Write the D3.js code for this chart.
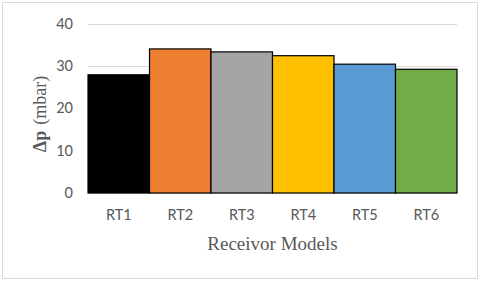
<!DOCTYPE html>
<html>
<head>
<meta charset="utf-8">
<script src="https://cdn.jsdelivr.net/npm/d3@7"></script>
<style>
  body { margin: 0; background: #fff; }
  svg { display: block; }
</style>
</head>
<body>
<div id="chart"></div>
<script>
  'use strict';

  // chart values
  var categories = ['RT1', 'RT2', 'RT3', 'RT4', 'RT5', 'RT6'];
  var values = [27.9, 34.0, 33.3, 32.4, 30.4, 29.2];
  var colors = ['#000000', '#ed7d31', '#a5a5a5', '#ffc000', '#5b9bd5', '#70ad47'];
  var yTicks = [0, 10, 20, 30, 40];

  var width = 480,
      height = 281,
      margin = { top: 23.5, right: 23, bottom: 88, left: 88 };

  var svg = d3.select('#chart').append('svg')
    .attr('width', width)
    .attr('height', height);

  // outer frame
  svg.append('rect')
    .attr('x', 2.5).attr('y', 2.5)
    .attr('width', width - 5).attr('height', height - 5)
    .attr('fill', '#fff')
    .attr('stroke', '#d9d9d9')
    .attr('stroke-width', 1);

  var x = d3.scaleBand()
    .domain(categories)
    .range([margin.left, width - margin.right])
    .padding(0);

  var y = d3.scaleLinear()
    .domain([0, 40])
    .range([height - margin.bottom, margin.top]);

  // gridlines
  svg.append('g').selectAll('line')
    .data(yTicks)
    .enter().append('line')
    .attr('x1', margin.left)
    .attr('x2', width - margin.right)
    .attr('y1', function(d) { return Math.round(y(d)) + 0.5; })
    .attr('y2', function(d) { return Math.round(y(d)) + 0.5; })
    .attr('stroke', '#d9d9d9')
    .attr('stroke-width', 1);

  // bars
  svg.append('g').selectAll('rect')
    .data(values)
    .enter().append('rect')
    .attr('x', function(d, i) { return x(categories[i]); })
    .attr('y', function(d) { return y(d); })
    .attr('width', x.bandwidth())
    .attr('height', function(d) { return y(0) - y(d); })
    .attr('fill', function(d, i) { return colors[i]; })
    .attr('stroke', '#000')
    .attr('stroke-width', 1.2);

  // y axis
  var yAxis = svg.append('g')
    .attr('transform', 'translate(' + (margin.left - 15) + ',0)')
    .call(d3.axisLeft(y).tickValues(yTicks).tickSize(0).tickPadding(0));
  yAxis.select('.domain').remove();
  yAxis.selectAll('text')
    .attr('font-family', 'Lato, sans-serif')
    .attr('font-size', 14.5)
    .attr('fill', '#595959');

  // x axis
  var xAxis = svg.append('g')
    .attr('transform', 'translate(0,' + y(0) + ')')
    .call(d3.axisBottom(x).tickSize(0).tickPadding(17));
  xAxis.select('.domain').remove();
  xAxis.selectAll('text')
    .attr('font-family', 'Lato, sans-serif')
    .attr('font-size', 14.5)
    .attr('fill', '#595959');

  // axis titles
  svg.append('text')
    .attr('x', (margin.left + width - margin.right) / 2)
    .attr('y', 250)
    .attr('text-anchor', 'middle')
    .attr('font-family', '"Liberation Serif", serif')
    .attr('font-size', 19)
    .attr('fill', '#595959')
    .text('Receivor Models');

  var yTitle = svg.append('text')
    .attr('transform', 'translate(46,' + 114 + ') rotate(-90)')
    .attr('text-anchor', 'middle')
    .attr('font-family', '"Liberation Serif", serif')
    .attr('font-size', 18)
    .attr('fill', '#595959');
  yTitle.append('tspan').attr('font-weight', 'bold').text('\u0394p');
  yTitle.append('tspan').attr('dx', 6).text('(mbar)');
</script>
</body>
</html>
